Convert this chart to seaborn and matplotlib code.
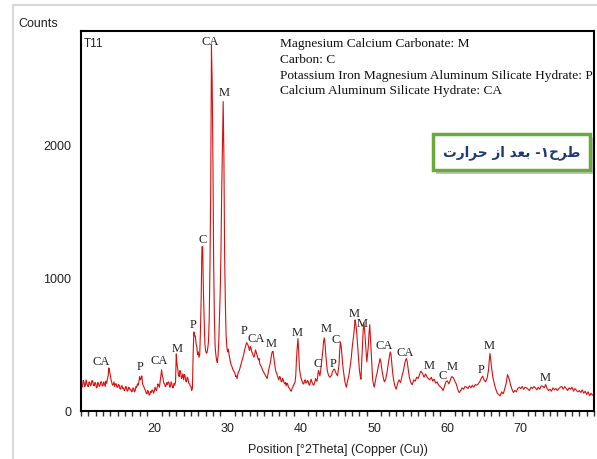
import numpy as np
import pandas as pd
import matplotlib
matplotlib.use("Agg")
import matplotlib.pyplot as plt
from matplotlib.patches import Rectangle
from matplotlib.ticker import MultipleLocator
import seaborn as sns

# ---- data ----
two_theta_start = 10.0
two_theta_step = 0.1
counts = [
    200, 170, 185, 225, 215, 180, 190, 230, 205, 185,   # 10
    180, 215, 210, 185, 195, 225, 220, 190, 185, 210,   # 11
    205, 170, 175, 210, 200, 180, 190, 215, 215, 185,   # 12
    185, 215, 200, 180, 220, 205, 235, 260, 320, 290,   # 13
    265, 230, 210, 190, 195, 215, 180, 200, 200, 175,   # 14
    175, 195, 190, 165, 160, 185, 185, 165, 170, 150,   # 15
    155, 180, 175, 145, 150, 175, 170, 155, 160, 140,   # 16
    145, 170, 165, 140, 150, 180, 175, 200, 190, 215,   # 17
    255, 230, 240, 260, 200, 185, 175, 160, 150, 130,   # 18
    125, 150, 140, 115, 120, 145, 135, 155, 150, 130,   # 19
    145, 175, 160, 150, 175, 200, 190, 175, 220, 260,   # 20
    305, 260, 240, 205, 200, 180, 185, 210, 195, 215,   # 21
    210, 175, 185, 215, 200, 170, 175, 205, 190, 215,   # 22
    425, 350, 310, 270, 255, 300, 290, 240, 250, 275,   # 23
    230, 270, 260, 220, 215, 250, 240, 205, 200, 185,   # 24
    180, 150, 165, 420, 590, 560, 560, 500, 480, 420,   # 25
    440, 400, 420, 600, 850, 1230, 1230, 900, 700, 500,  # 26
    450, 430, 435, 470, 520, 700, 1100, 1660, 2740, 2460,  # 27
    1890, 1100, 700, 480, 420, 380, 360, 410, 520, 700,  # 28
    900, 1200, 1650, 2000, 2320, 1900, 1150, 800, 560, 480,  # 29
    440, 460, 420, 390, 360, 340, 330, 310, 300, 290,   # 30
    280, 255, 260, 240, 275, 290, 300, 320, 340, 360,   # 31
    380, 400, 420, 450, 470, 490, 510, 500, 490, 470,   # 32
    450, 480, 470, 440, 430, 410, 400, 420, 455, 440,   # 33
    420, 400, 380, 390, 350, 340, 330, 315, 300, 290,   # 34
    280, 270, 260, 250, 240, 270, 300, 330, 350, 380,   # 35
    420, 440, 445, 400, 360, 320, 290, 280, 260, 245,   # 36
    230, 255, 250, 220, 215, 240, 230, 210, 200, 210,   # 37
    185, 205, 200, 175, 170, 160, 150, 145, 165, 175,   # 38
    190, 200, 210, 260, 380, 470, 540, 450, 320, 280,   # 39
    250, 230, 215, 200, 200, 225, 230, 205, 210, 225,   # 40
    220, 195, 190, 215, 235, 215, 205, 190, 195, 210,   # 41
    240, 225, 220, 260, 300, 280, 260, 300, 350, 400,   # 42
    450, 520, 545, 500, 420, 360, 300, 280, 260, 255,   # 43
    250, 260, 265, 290, 300, 310, 310, 295, 280, 270,   # 44
    260, 300, 340, 450, 515, 480, 420, 350, 300, 260,   # 45
    220, 195, 175, 200, 230, 250, 280, 320, 360, 410,   # 46
    470, 520, 560, 620, 680, 650, 600, 520, 430, 370,   # 47
    300, 260, 235, 350, 480, 600, 660, 600, 520, 440,   # 48
    365, 420, 480, 580, 645, 540, 420, 320, 230, 200,   # 49
    175, 200, 230, 260, 280, 310, 340, 360, 390, 370,   # 50
    330, 290, 260, 235, 215, 225, 240, 270, 300, 340,   # 51
    380, 410, 440, 420, 360, 300, 250, 220, 190, 175,   # 52
    160, 180, 200, 220, 230, 220, 210, 230, 260, 280,   # 53
    300, 330, 360, 380, 390, 370, 330, 290, 250, 230,   # 54
    210, 200, 195, 210, 230, 225, 220, 235, 250, 245,   # 55
    240, 255, 270, 290, 295, 285, 280, 265, 250, 260,   # 56
    275, 265, 256, 245, 240, 235, 230, 240, 250, 235,   # 57
    220, 230, 235, 220, 205, 210, 215, 200, 190, 185,   # 58
    180, 175, 170, 160, 150, 165, 180, 200, 215, 220,   # 59
    222, 210, 200, 215, 230, 245, 255, 250, 245, 235,   # 60
    220, 210, 200, 180, 160, 145, 135, 140, 150, 160,   # 61
    170, 165, 160, 170, 180, 178, 175, 170, 165, 175,   # 62
    185, 178, 170, 180, 190, 182, 175, 185, 195, 192,   # 63
    190, 195, 200, 208, 215, 228, 240, 250, 258, 245,   # 64
    230, 222, 215, 228, 240, 270, 300, 370, 428, 390,   # 65
    330, 290, 250, 225, 200, 180, 160, 145, 130, 125,   # 66
    120, 115, 110, 125, 140, 132, 125, 140, 160, 180,   # 67
    200, 235, 270, 255, 240, 220, 195, 180, 160, 148,   # 68
    135, 142, 150, 145, 140, 152, 165, 170, 175, 170,   # 69
    165, 172, 180, 170, 160, 168, 175, 172, 170, 165,   # 70
    160, 155, 150, 162, 175, 170, 165, 172, 180, 175,   # 71
    170, 162, 155, 165, 175, 168, 160, 172, 185, 184,   # 72
    183, 176, 170, 182, 195, 180, 165, 158, 150, 155,   # 73
    160, 152, 145, 158, 170, 162, 155, 160, 165, 158,   # 74
    150, 158, 165, 170, 175, 178, 180, 170, 160, 170,   # 75
    180, 172, 165, 158, 150, 160, 170, 165, 160, 168,   # 76
    175, 160, 145, 155, 165, 158, 150, 145, 140, 145,   # 77
    150, 142, 135, 145, 155, 142, 130, 138, 145, 132,   # 78
    120, 130, 140, 125, 110, 120, 130, 122, 115, 118,   # 79
    120,                                                # 80
]
two_theta = two_theta_start + two_theta_step * np.arange(len(counts))

peak_labels = ["CA", "P", "CA", "M", "P", "C", "CA", "M", "P", "CA", "M", "M",
               "C", "M", "P", "C", "M", "M", "CA", "CA", "M", "C", "M", "P", "M", "M"]
peak_label_x = [12.7, 18.05, 20.64, 23.14, 25.32, 26.55, 27.6, 29.55, 32.28, 33.96, 36.01, 39.56,
                42.24, 43.42, 44.42, 44.79, 47.29, 48.43, 51.34, 54.2, 57.48, 59.35, 60.61, 64.66, 65.7, 73.4]
peak_label_y = [371, 333, 378, 471, 652, 1286, 2777, 2389, 601, 546, 509, 592,
                358, 622, 358, 539, 729, 654, 489, 439, 338, 263, 333, 313, 489, 253]

legend_lines = ["Magnesium Calcium Carbonate: M",
                "Carbon: C",
                "Potassium Iron Magnesium Aluminum Silicate Hydrate: P",
                "Calcium Aluminum Silicate Hydrate: CA"]
sample_name = "T11"
y_ticks = [0, 1000, 2000]
x_major = [20, 30, 40, 50, 60, 70]
note_text = "طرح۱- بعد از حرارت"


def shape_persian(_text):
    # Arabic presentation forms of the note, in visual (left-to-right) order,
    # since matplotlib does no Arabic shaping or bidi reordering itself
    forms = ["\uFE95", "\uFEAD", "\uFE8D", "\uFEAE", "\uFEA3", " ",
             "\uFEAF", "\uFE8D", " ",
             "\uFEAA", "\uFECC", "\uFE91", " ",
             "-", "\u06F1", "\uFEA1", "\uFEAE", "\uFEC3"]
    return "".join(forms)


df = pd.DataFrame({"two_theta": two_theta, "counts": counts})

sns.set_style("white")
plt.rcParams["font.family"] = ["Liberation Sans", "DejaVu Sans"]

fig = plt.figure(figsize=(5.97, 4.60), dpi=100)
ax = fig.add_axes([81 / 597, 1 - 411.5 / 460, 513 / 597, 379.5 / 460])

sns.lineplot(data=df, x="two_theta", y="counts", ax=ax, color="#d81010",
             linewidth=0.8, estimator=None)

ax.set_xlim(10, 80)
ax.set_ylim(0, 2850)
ax.set_yticks(y_ticks)
ax.set_xticks(x_major)
ax.xaxis.set_minor_locator(MultipleLocator(1))
ax.tick_params(axis="both", which="major", direction="out", length=5, width=1,
               color="#333333", labelsize=9, labelcolor="#222222", pad=2)
ax.tick_params(axis="x", which="major", length=6)
ax.tick_params(axis="x", which="minor", direction="out", length=3.5, width=1,
               color="#333333", bottom=True)
for s in ax.spines.values():
    s.set_color("black")
    s.set_linewidth(1.5)
ax.set_xlabel("Position [°2Theta] (Copper (Cu))", fontsize=9, color="#222222", labelpad=7)
ax.set_ylabel("")

for lab, lx, ly in zip(peak_labels, peak_label_x, peak_label_y):
    ax.text(lx, ly, lab, ha="center", va="center", fontsize=9,
            family=["Liberation Serif"], color="#222222")

ax.text(0.006, 0.985, sample_name, transform=ax.transAxes, ha="left", va="top",
        fontsize=8.5, color="#222222")

for i, line in enumerate(legend_lines):
    ax.text(0.388, 0.968 - i * 0.0415, line, transform=ax.transAxes, ha="left",
            va="center", fontsize=9.6, family=["Liberation Serif"], color="#111111")

fig.text(18 / 597, 1 - 24 / 460, "Counts", ha="left", va="center", fontsize=9,
         color="#222222")

# outer light frame
fig.patches.append(Rectangle((13 / 597, -0.05), 1.0, 1 - 6 / 460 + 0.05,
                             transform=fig.transFigure, fill=False,
                             edgecolor="#d8d8d8", linewidth=1.5, zorder=0))

# note box with shadow
bx, by, bw, bh = 433 / 597, 1 - 171 / 460, 157 / 597, 36 / 460
fig.patches.append(Rectangle((bx + 3 / 597, by - 4 / 460), bw, bh,
                             transform=fig.transFigure, facecolor="#9a9a9a",
                             edgecolor="none", alpha=0.6, zorder=5))
fig.patches.append(Rectangle((bx, by), bw, bh, transform=fig.transFigure,
                             facecolor="white", edgecolor="#6aaa3a",
                             linewidth=2.5, zorder=6))
fig.text(bx + bw / 2, by + bh / 2, shape_persian(note_text), ha="center", va="center",
         fontsize=9.8, fontweight="bold", color="#1f3a73",
         family=["DejaVu Sans"], zorder=7)

fig.savefig("out.png", dpi=100)
